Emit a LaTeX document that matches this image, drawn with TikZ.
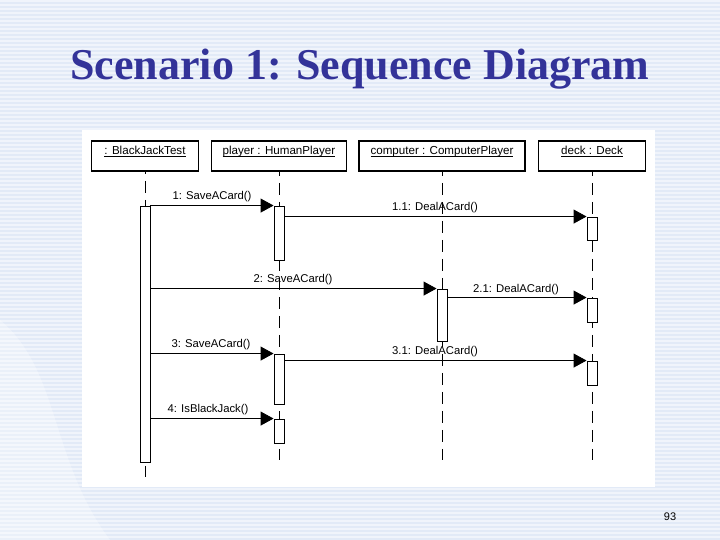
\documentclass[tikz,border=0pt]{standalone}
\usepackage{fontspec}
\setmainfont{Liberation Serif}
\setsansfont{Liberation Sans}
\usetikzlibrary{arrows.meta}
\definecolor{bgblue}{RGB}{226,234,247}
\definecolor{stripe}{RGB}{240,244,251}
\definecolor{titleblue}{RGB}{51,51,153}
\newcommand{\ulbl}[1]{\underline{\smash{#1}}}
\tikzset{
  objbox/.style={draw=black, line width=1.8pt, fill=white, minimum height=30pt, inner sep=0pt, font=\sffamily\fontsize{11.6}{13}\selectfont},
  act/.style={draw=black, line width=0.9pt, fill=white, minimum width=10pt, inner sep=0pt},
  life/.style={draw=black, line width=0.8pt, dash pattern=on 12pt off 7pt},
  msg/.style={draw=black, line width=0.9pt, -{Triangle[length=13pt,width=14pt]}},
  lbl/.style={font=\sffamily\fontsize{11.3}{13}\selectfont, inner sep=0pt},
}
\begin{document}
\begin{tikzpicture}[x=1pt,y=-1pt]
\useasboundingbox (0,0) rectangle (720,540);
% background
\fill[bgblue] (0,0) rectangle (720,540);
\foreach \y in {0,4,...,540} { \fill[stripe] (0,\y) rectangle (720,\y+2); }
\fill[white,opacity=0.3] (0,320) .. controls (60,370) and (50,460) .. (110,540) -- (0,540) -- cycle;
% title
\node[text=titleblue, font=\fontsize{44}{50}\selectfont\bfseries] (title) at (360,69) {Scenario 1: Sequence Diagram};
% panel
\fill[white] (82,130) rectangle (655,487);
% object boxes
\node[objbox, minimum width=107pt] (b1) at (145,156) {\ulbl{: BlackJackTest}};
\node[objbox, minimum width=135pt] (b2) at (279,156) {\ulbl{player : HumanPlayer}};
\node[objbox, minimum width=166pt] (b3) at (442,156) {\ulbl{computer : ComputerPlayer}};
\node[objbox, minimum width=107pt] (b4) at (592,156) {\ulbl{deck : Deck}};
% lifelines
\coordinate (e1) at (145,477);
\coordinate (e2) at (279,460);
\coordinate (e3) at (442,460);
\coordinate (e4) at (592,460);
\draw[life, dash phase=10pt] (b1.south) -- (e1);
\draw[life, dash phase=8pt] (b2.south) -- (e2);
\draw[life, dash phase=8pt] (b3.south) -- (e3);
\draw[life, dash phase=8pt] (b4.south) -- (e4);
% activations
\node[act, minimum height=256pt] (a1) at (145,334) {};
\node[act, minimum height=54pt] (p1) at (279,233) {};
\node[act, minimum height=23pt] (d1) at (592,228.5) {};
\node[act, minimum height=52pt] (c1) at (442,315) {};
\node[act, minimum height=24pt] (d2) at (592,310) {};
\node[act, minimum height=50pt] (p2) at (279,379) {};
\node[act, minimum height=24pt] (d3) at (592,373) {};
\node[act, minimum height=24pt] (p3) at (279,431) {};
% messages
\draw[msg] (a1.east |- p1.north) -- (p1.north west);
\draw[msg] (p1.east |- d1.north) -- (d1.north west);
\draw[msg] (a1.east |- c1.north) -- (c1.north west);
\draw[msg] (c1.east |- d2.north) -- (d2.north west);
\draw[msg] (a1.east |- p2.north) -- (p2.north west);
\draw[msg] (p2.east |- d3.north) -- (d3.north west);
\draw[msg] (a1.east |- p3.north) -- (p3.north west);
% labels
\node[lbl] (l1) at (212,197) {1: SaveACard()};
\node[lbl] (l11) at (435,208) {1.1: DealACard()};
\node[lbl] (l2) at (293,280) {2: SaveACard()};
\node[lbl] (l21) at (516,290) {2.1: DealACard()};
\node[lbl] (l3) at (211,345) {3: SaveACard()};
\node[lbl] (l31) at (435,352) {3.1: DealACard()};
\node[lbl] (l4) at (208,410) {4: IsBlackJack()};
% page number
\node[font=\sffamily\fontsize{11}{13}\selectfont] (pg) at (670,517) {93};
\end{tikzpicture}
\end{document}
